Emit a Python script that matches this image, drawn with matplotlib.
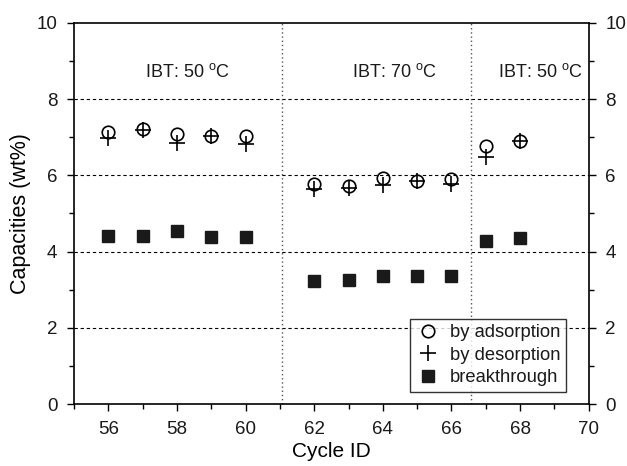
import numpy as np
import matplotlib
matplotlib.use('Agg')
import matplotlib.pyplot as plt

plt.rcParams['font.family'] = ['Liberation Sans', 'DejaVu Sans']
plt.rcParams['mathtext.fontset'] = 'custom'
plt.rcParams['mathtext.rm'] = 'Liberation Sans'
plt.rcParams['text.color'] = '#1a1a1a'

cycles = [56, 57, 58, 59, 60, 62, 63, 64, 65, 66, 67, 68]
adsorption = [7.13, 7.22, 7.09, 7.02, 7.02, 5.77, 5.71, 5.93, 5.86, 5.90, 6.78, 6.91]
desorption = [6.98, 7.19, 6.84, 7.02, 6.83, 5.65, 5.68, 5.74, 5.86, 5.76, 6.48, 6.91]
breakthrough = [4.41, 4.41, 4.53, 4.37, 4.38, 3.22, 3.25, 3.35, 3.35, 3.36, 4.28, 4.36]

boundaries = [61.05, 66.57]
labels = [(58.3, r'IBT: 50 $^{\mathrm{o}}$C'), (64.35, r'IBT: 70 $^{\mathrm{o}}$C'), (68.6, r'IBT: 50 $^{\mathrm{o}}$C')]

fig = plt.figure(figsize=(6.27, 4.66), dpi=100)
ax = fig.add_axes([0.118, 0.133, 0.821, 0.818])

for y in [2, 4, 6, 8]:
    ax.axhline(y, color='black', lw=0.8, ls=(0, (3, 2.5)), zorder=1)
for x in boundaries:
    ax.axvline(x, color='#555555', lw=1.0, ls=(0, (1, 2)), zorder=1)

ax.plot(cycles, adsorption, 'o', ms=9, mfc='none', mec='black', mew=1.2, ls='none', label='by adsorption', zorder=3)
ax.plot(cycles, desorption, '+', ms=12, mec='black', mew=1.2, ls='none', label='by desorption', zorder=3)
ax.plot(cycles, breakthrough, 's', ms=8.5, mfc='#1a1a1a', mec='#1a1a1a', ls='none', label='breakthrough', zorder=3)

for x, t in labels:
    ax.text(x, 8.7, t, ha='center', va='center', fontsize=13)

ax.set_xlim(55, 70)
ax.set_ylim(0, 10)
ax.set_xticks(np.arange(56, 71, 2))
ax.set_xticks(np.arange(55, 71, 1), minor=True)
ax.set_yticks(np.arange(0, 11, 2))
ax.set_yticks(np.arange(0, 11, 1), minor=True)
ax.tick_params(which='both', direction='out', labelsize=13.5, right=True, labelright=True,
               width=1, labelcolor='#1a1a1a')
ax.tick_params(which='major', length=5, pad=7)
ax.tick_params(which='minor', length=3.5)
for s in ax.spines.values():
    s.set_linewidth(1.2)

ax.set_xlabel('Cycle ID', fontsize=15, labelpad=3)
ax.set_ylabel('Capacities (wt%)', fontsize=15.5, labelpad=4)

leg = ax.legend(loc='lower right', bbox_to_anchor=(0.968, 0.015), fontsize=13.2, frameon=True,
                fancybox=False, edgecolor='black', handletextpad=0.55, borderpad=0.3,
                labelspacing=0.3, handlelength=1.3, borderaxespad=0.35)
leg.get_frame().set_linewidth(1.0)

fig.savefig('out.png', dpi=100)
